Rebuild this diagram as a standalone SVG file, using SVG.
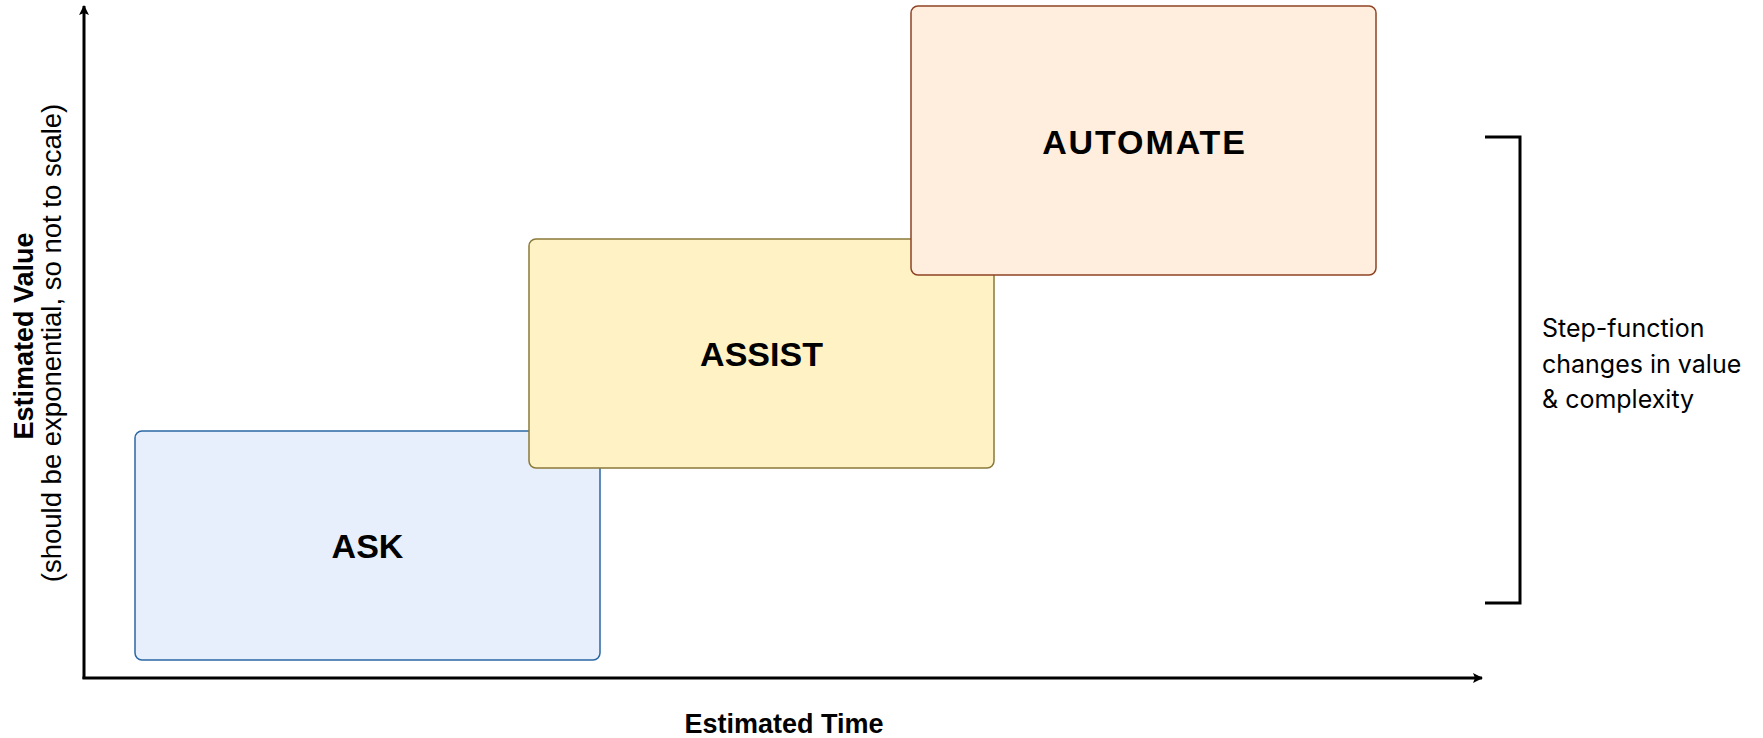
<svg xmlns="http://www.w3.org/2000/svg" width="1763" height="738" viewBox="0 0 1763 738">
<style>
.box{stroke-width:1.5}
.lbl{font-family:"Liberation Sans",Arial,sans-serif;font-weight:bold;font-size:34px;fill:#000;text-anchor:middle;dominant-baseline:central}
.axis{stroke:#000;stroke-width:3;fill:none}
.t{font-family:"Liberation Sans",Arial,sans-serif;fill:#000}
</style>
<defs>
<marker id="arr" viewBox="0 0 10 10" refX="9" refY="5" markerWidth="10" markerHeight="10" markerUnits="userSpaceOnUse" orient="auto">
<path d="M0,0 L10,5 L0,10 L2,5 Z" fill="#000"/>
</marker>
</defs>
<rect width="1763" height="738" fill="#fff"/>
<g id="connectors">
<line class="axis" x1="84" y1="679" x2="84" y2="6" marker-end="url(#arr)"/>
<line class="axis" x1="82.5" y1="678" x2="1482" y2="678" marker-end="url(#arr)"/>
<path class="axis" d="M1485,137 H1520 V603 H1485"/>
</g>
<g id="ask">
<rect class="box" x="135" y="431" width="465" height="229" rx="7" fill="#e8effc" stroke="#2a67a5"/>
<text class="lbl" x="367.5" y="545.5">ASK</text>
</g>
<g id="assist">
<rect class="box" x="529" y="239" width="465" height="229" rx="7" fill="#fff2c4" stroke="#8a7a3a"/>
<text class="lbl" x="761.5" y="353.5">ASSIST</text>
</g>
<g id="automate">
<rect class="box" x="911" y="6" width="465" height="269" rx="7" fill="#ffeddd" stroke="#8e4325"/>
<text class="lbl" x="1144.5" y="141.5" letter-spacing="1.9">AUTOMATE</text>
</g>
<g id="y-label">
<text class="t" transform="translate(33,336) rotate(-90)" text-anchor="middle" font-size="27" font-weight="bold">Estimated Value</text>
<text class="t" transform="translate(61,343) rotate(-90)" text-anchor="middle" font-size="27.5">(should be exponential, so not to scale)</text>
</g>
<g id="x-label">
<text class="t" x="784" y="733" text-anchor="middle" font-size="27" font-weight="bold">Estimated Time</text>
</g>
<g id="bracket-label">
<text font-family="Inter,'Liberation Sans',sans-serif" fill="#000" font-size="25"><tspan x="1542" y="337">Step-function</tspan><tspan x="1542" y="373">changes in value</tspan><tspan x="1542" y="408">&amp; complexity</tspan></text>
</g>
</svg>
